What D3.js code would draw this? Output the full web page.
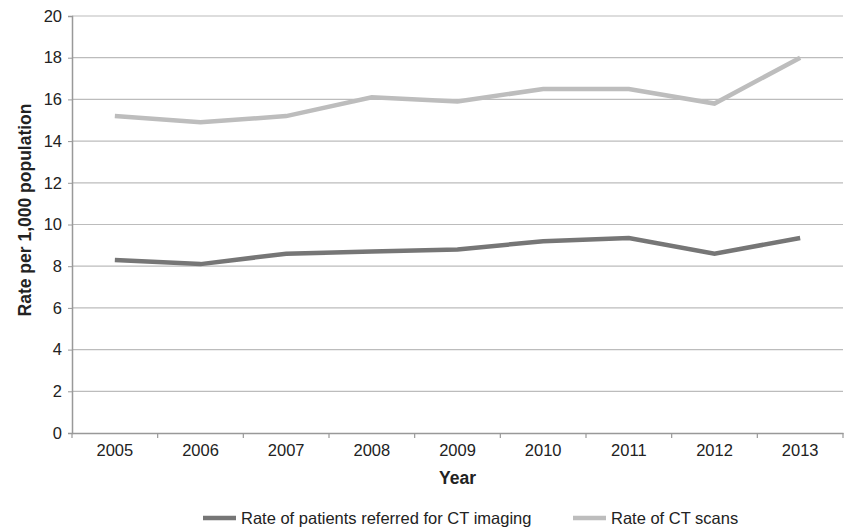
<!DOCTYPE html>
<html>
<head>
<meta charset="utf-8">
<script src="https://cdn.jsdelivr.net/npm/d3@7"></script>
<style>
body { margin: 0; background: #fff; }
svg text { font-family: "Liberation Sans", Arial, sans-serif; fill: #222; }
</style>
</head>
<body>
<div id="plotdiv"></div>
<script>
var years = ["2005","2006","2007","2008","2009","2010","2011","2012","2013"];
var referredRate = [8.3, 8.1, 8.6, 8.7, 8.8, 9.2, 9.35, 8.6, 9.35];
var scanRate = [15.2, 14.9, 15.2, 16.1, 15.9, 16.5, 16.5, 15.8, 18.0];
var yTicks = [0, 2, 4, 6, 8, 10, 12, 14, 16, 18, 20];
var seriesNames = ["Rate of patients referred for CT imaging", "Rate of CT scans"];

function drawChart()
{
	var width = 845, height = 528;
	var left = 72, right = 843, top = 16, bottom = 433;
	var darkColor = "#767676";
	var lightColor = "#bdbdbd";

	var svg = d3.select("#plotdiv").append("svg")
		.attr("width", width)
		.attr("height", height);

	var x = d3.scaleBand().domain(years).range([left, right]);
	var y = d3.scaleLinear().domain([0, 20]).range([bottom, top]);

	// gridlines
	svg.append("g").selectAll("line")
		.data(yTicks.filter(function(t){return t > 0;}))
		.enter().append("line")
		.attr("x1", left).attr("x2", right)
		.attr("y1", function(t){return y(t);})
		.attr("y2", function(t){return y(t);})
		.attr("stroke", "#bcbcbc")
		.attr("stroke-width", 1.2);

	// y axis
	var yAxis = svg.append("g")
		.attr("transform", "translate(" + left + ",0)")
		.call(d3.axisLeft(y).tickValues(yTicks).tickSize(4).tickPadding(6));
	yAxis.select(".domain").attr("stroke", "#999").attr("stroke-width", 1.5);
	yAxis.selectAll(".tick line").attr("stroke", "#999");
	yAxis.selectAll("text").style("font-size", "16.5px").attr("fill", "#222");

	// x axis
	var xAxis = svg.append("g")
		.attr("transform", "translate(0," + bottom + ")")
		.call(d3.axisBottom(x).tickSize(0).tickPadding(11));
	xAxis.select(".domain").attr("stroke", "#999").attr("stroke-width", 1.5);
	xAxis.selectAll("text").style("font-size", "16.5px").attr("fill", "#222");
	svg.append("g").selectAll("line")
		.data(years.concat(["end"]))
		.enter().append("line")
		.attr("x1", function(d, i){return left + i * x.step();})
		.attr("x2", function(d, i){return left + i * x.step();})
		.attr("y1", bottom).attr("y2", bottom + 5)
		.attr("stroke", "#999").attr("stroke-width", 1.2);

	// titles
	svg.append("text")
		.attr("x", (left + right) / 2).attr("y", 484)
		.attr("text-anchor", "middle")
		.style("font-size", "17.5px").style("font-weight", "bold")
		.text("Year");
	svg.append("text")
		.attr("transform", "translate(31,210) rotate(-90)")
		.attr("text-anchor", "middle")
		.style("font-size", "17.5px").style("font-weight", "bold")
		.text("Rate per 1,000 population");

	var line = d3.line()
		.x(function(d, i){return x(years[i]) + x.bandwidth() / 2;})
		.y(function(d){return y(d);});

	svg.append("path")
		.attr("d", line(scanRate))
		.attr("fill", "none")
		.attr("stroke", lightColor)
		.attr("stroke-width", 4.5);
	svg.append("path")
		.attr("d", line(referredRate))
		.attr("fill", "none")
		.attr("stroke", darkColor)
		.attr("stroke-width", 4.5);

	// legend
	var legend = [
		{name: seriesNames[0], color: darkColor, x: 203},
		{name: seriesNames[1], color: lightColor, x: 573}
	];
	var lg = svg.append("g").selectAll("g")
		.data(legend)
		.enter().append("g")
		.attr("transform", function(d){return "translate(" + d.x + ",518)";});
	lg.append("line")
		.attr("x1", 0).attr("x2", 33)
		.attr("stroke", function(d){return d.color;})
		.attr("stroke-width", 4.5);
	lg.append("text")
		.attr("x", 38).attr("y", 5.5)
		.style("font-size", "16.5px")
		.text(function(d){return d.name;});
}

drawChart();
</script>
</body>
</html>
